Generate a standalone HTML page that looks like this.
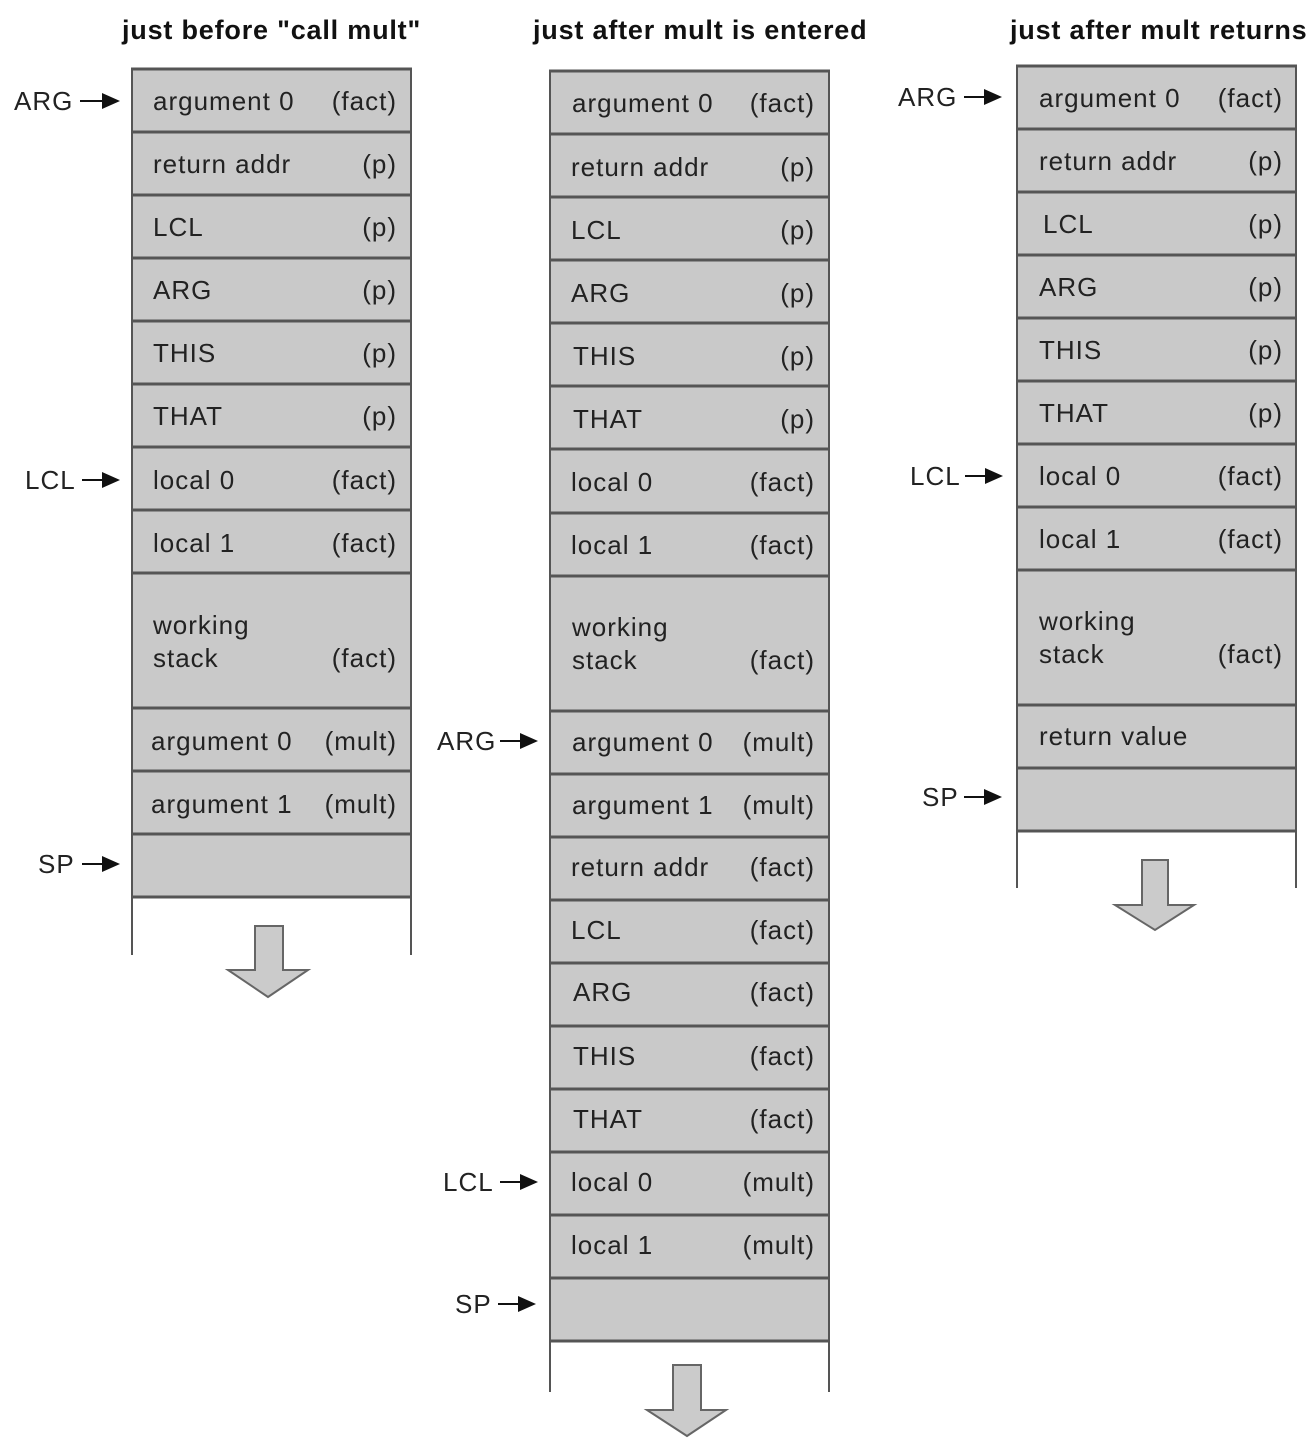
<!DOCTYPE html>
<html><head><meta charset="utf-8"><style>
html,body{margin:0;padding:0;background:#fff;}
svg{display:block;}
text{font-family:"Liberation Sans",sans-serif;font-size:26px;letter-spacing:1px;fill:#222;}
.t{font-weight:bold;font-size:27px;letter-spacing:0.8px;fill:#111;}
.r{text-anchor:end;}
.c{fill:#c9c9c9;stroke:none;}
.h{stroke:#555;stroke-width:3;}
.v{stroke:#555;stroke-width:2;}
.da{fill:#cbcbcb;stroke:#666;stroke-width:2;}
</style></head><body>
<svg width="1316" height="1452" viewBox="0 0 1316 1452" xmlns="http://www.w3.org/2000/svg">
<!-- titles -->
<text class="t" x="122" y="39">just before  "call mult"</text>
<text class="t" x="533" y="39">just after mult is entered</text>
<text class="t" x="1010" y="39">just after mult returns</text>

<!-- Column 1 -->
<rect class="c" x="132" y="69" width="279" height="828"/>
<line class="v" x1="132" y1="69" x2="132" y2="955"/>
<line class="v" x1="411" y1="69" x2="411" y2="955"/>
<g class="h">
<line x1="131" y1="69" x2="412" y2="69"/><line x1="131" y1="132" x2="412" y2="132"/>
<line x1="131" y1="195" x2="412" y2="195"/><line x1="131" y1="258" x2="412" y2="258"/>
<line x1="131" y1="321" x2="412" y2="321"/><line x1="131" y1="384" x2="412" y2="384"/>
<line x1="131" y1="447" x2="412" y2="447"/><line x1="131" y1="510" x2="412" y2="510"/>
<line x1="131" y1="573" x2="412" y2="573"/><line x1="131" y1="708" x2="412" y2="708"/>
<line x1="131" y1="771" x2="412" y2="771"/><line x1="131" y1="834" x2="412" y2="834"/>
<line x1="131" y1="897" x2="412" y2="897"/>
</g>
<text x="153" y="110">argument 0</text><text class="r" x="397" y="110">(fact)</text>
<text x="153" y="173">return addr</text><text class="r" x="397" y="173">(p)</text>
<text x="153" y="236">LCL</text><text class="r" x="397" y="236">(p)</text>
<text x="153" y="299">ARG</text><text class="r" x="397" y="299">(p)</text>
<text x="153" y="362">THIS</text><text class="r" x="397" y="362">(p)</text>
<text x="153" y="425">THAT</text><text class="r" x="397" y="425">(p)</text>
<text x="153" y="489">local 0</text><text class="r" x="397" y="489">(fact)</text>
<text x="153" y="552">local 1</text><text class="r" x="397" y="552">(fact)</text>
<text x="153" y="634">working</text><text x="153" y="667">stack</text><text class="r" x="397" y="667">(fact)</text>
<text x="151" y="750">argument 0</text><text class="r" x="397" y="750">(mult)</text>
<text x="151" y="813">argument 1</text><text class="r" x="397" y="813">(mult)</text>
<path class="da" d="M255,926 H283 V970 H308 L268,997 L228,970 H255 Z"/>
<text x="14" y="110">ARG</text><line x1="80" y1="101" x2="104" y2="101" stroke="#111" stroke-width="2"/><path d="M102,93 L120,101 L102,109 Z" fill="#111"/>
<text x="25" y="489">LCL</text><line x1="82" y1="480" x2="104" y2="480" stroke="#111" stroke-width="2"/><path d="M102,472 L120,480 L102,488 Z" fill="#111"/>
<text x="38" y="873">SP</text><line x1="82" y1="864" x2="104" y2="864" stroke="#111" stroke-width="2"/><path d="M102,856 L120,864 L102,872 Z" fill="#111"/>

<!-- Column 2 -->
<rect class="c" x="550" y="71" width="279" height="1270"/>
<line class="v" x1="550" y1="71" x2="550" y2="1392"/>
<line class="v" x1="829" y1="71" x2="829" y2="1392"/>
<g class="h">
<line x1="549" y1="71" x2="830" y2="71"/><line x1="549" y1="134" x2="830" y2="134"/>
<line x1="549" y1="197" x2="830" y2="197"/><line x1="549" y1="260" x2="830" y2="260"/>
<line x1="549" y1="323" x2="830" y2="323"/><line x1="549" y1="386" x2="830" y2="386"/>
<line x1="549" y1="449" x2="830" y2="449"/><line x1="549" y1="513" x2="830" y2="513"/>
<line x1="549" y1="576" x2="830" y2="576"/><line x1="549" y1="711" x2="830" y2="711"/>
<line x1="549" y1="774" x2="830" y2="774"/><line x1="549" y1="837" x2="830" y2="837"/>
<line x1="549" y1="900" x2="830" y2="900"/><line x1="549" y1="963" x2="830" y2="963"/>
<line x1="549" y1="1026" x2="830" y2="1026"/><line x1="549" y1="1089" x2="830" y2="1089"/>
<line x1="549" y1="1152" x2="830" y2="1152"/><line x1="549" y1="1215" x2="830" y2="1215"/>
<line x1="549" y1="1278" x2="830" y2="1278"/><line x1="549" y1="1341" x2="830" y2="1341"/>
</g>
<text x="572" y="112">argument 0</text><text class="r" x="815" y="112">(fact)</text>
<text x="571" y="176">return addr</text><text class="r" x="815" y="176">(p)</text>
<text x="571" y="239">LCL</text><text class="r" x="815" y="239">(p)</text>
<text x="571" y="302">ARG</text><text class="r" x="815" y="302">(p)</text>
<text x="573" y="365">THIS</text><text class="r" x="815" y="365">(p)</text>
<text x="573" y="428">THAT</text><text class="r" x="815" y="428">(p)</text>
<text x="571" y="491">local 0</text><text class="r" x="815" y="491">(fact)</text>
<text x="571" y="554">local 1</text><text class="r" x="815" y="554">(fact)</text>
<text x="572" y="636">working</text><text x="572" y="669">stack</text><text class="r" x="815" y="669">(fact)</text>
<text x="572" y="751">argument 0</text><text class="r" x="815" y="751">(mult)</text>
<text x="572" y="814">argument 1</text><text class="r" x="815" y="814">(mult)</text>
<text x="571" y="876">return addr</text><text class="r" x="815" y="876">(fact)</text>
<text x="571" y="939">LCL</text><text class="r" x="815" y="939">(fact)</text>
<text x="573" y="1001">ARG</text><text class="r" x="815" y="1001">(fact)</text>
<text x="573" y="1065">THIS</text><text class="r" x="815" y="1065">(fact)</text>
<text x="573" y="1128">THAT</text><text class="r" x="815" y="1128">(fact)</text>
<text x="571" y="1191">local 0</text><text class="r" x="815" y="1191">(mult)</text>
<text x="571" y="1254">local 1</text><text class="r" x="815" y="1254">(mult)</text>
<path class="da" d="M673,1365 H701 V1410 H726 L687,1436 L647,1410 H673 Z"/>
<text x="437" y="750">ARG</text><line x1="500" y1="741" x2="522" y2="741" stroke="#111" stroke-width="2"/><path d="M520,733 L538,741 L520,749 Z" fill="#111"/>
<text x="443" y="1191">LCL</text><line x1="500" y1="1182" x2="522" y2="1182" stroke="#111" stroke-width="2"/><path d="M520,1174 L538,1182 L520,1190 Z" fill="#111"/>
<text x="455" y="1313">SP</text><line x1="498" y1="1304" x2="520" y2="1304" stroke="#111" stroke-width="2"/><path d="M518,1296 L536,1304 L518,1312 Z" fill="#111"/>

<!-- Column 3 -->
<rect class="c" x="1017" y="66" width="279" height="765"/>
<line class="v" x1="1017" y1="66" x2="1017" y2="888"/>
<line class="v" x1="1296" y1="66" x2="1296" y2="888"/>
<g class="h">
<line x1="1016" y1="66" x2="1297" y2="66"/><line x1="1016" y1="129" x2="1297" y2="129"/>
<line x1="1016" y1="192" x2="1297" y2="192"/><line x1="1016" y1="255" x2="1297" y2="255"/>
<line x1="1016" y1="318" x2="1297" y2="318"/><line x1="1016" y1="381" x2="1297" y2="381"/>
<line x1="1016" y1="444" x2="1297" y2="444"/><line x1="1016" y1="507" x2="1297" y2="507"/>
<line x1="1016" y1="570" x2="1297" y2="570"/><line x1="1016" y1="705" x2="1297" y2="705"/>
<line x1="1016" y1="768" x2="1297" y2="768"/><line x1="1016" y1="831" x2="1297" y2="831"/>
</g>
<text x="1039" y="107">argument 0</text><text class="r" x="1283" y="107">(fact)</text>
<text x="1039" y="170">return addr</text><text class="r" x="1283" y="170">(p)</text>
<text x="1043" y="233">LCL</text><text class="r" x="1283" y="233">(p)</text>
<text x="1039" y="296">ARG</text><text class="r" x="1283" y="296">(p)</text>
<text x="1039" y="359">THIS</text><text class="r" x="1283" y="359">(p)</text>
<text x="1039" y="422">THAT</text><text class="r" x="1283" y="422">(p)</text>
<text x="1039" y="485">local 0</text><text class="r" x="1283" y="485">(fact)</text>
<text x="1039" y="548">local 1</text><text class="r" x="1283" y="548">(fact)</text>
<text x="1039" y="630">working</text><text x="1039" y="663">stack</text><text class="r" x="1283" y="663">(fact)</text>
<text x="1039" y="745">return value</text>
<path class="da" d="M1142,860 H1168 V905 H1194 L1155,930 L1115,905 H1142 Z"/>
<text x="898" y="106">ARG</text><line x1="964" y1="97" x2="986" y2="97" stroke="#111" stroke-width="2"/><path d="M984,89 L1002,97 L984,105 Z" fill="#111"/>
<text x="910" y="485">LCL</text><line x1="965" y1="476" x2="987" y2="476" stroke="#111" stroke-width="2"/><path d="M985,468 L1003,476 L985,484 Z" fill="#111"/>
<text x="922" y="806">SP</text><line x1="964" y1="797" x2="986" y2="797" stroke="#111" stroke-width="2"/><path d="M984,789 L1002,797 L984,805 Z" fill="#111"/>
</svg>
</body></html>
